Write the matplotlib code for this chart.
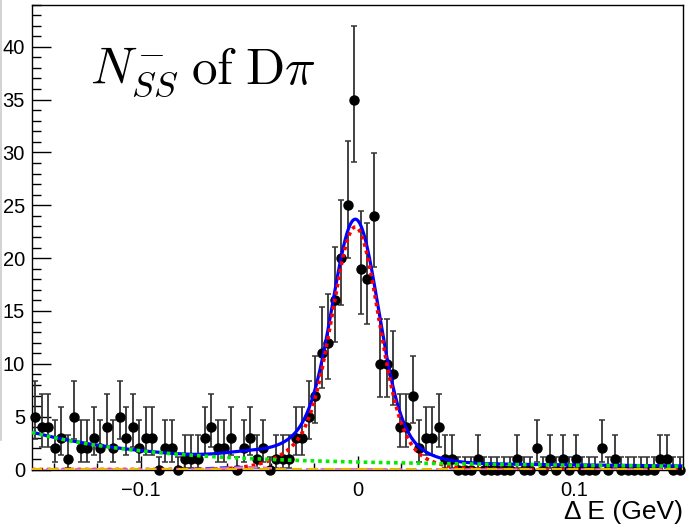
import math
import numpy as np
import matplotlib
matplotlib.use("Agg")
import matplotlib.pyplot as plt
from matplotlib.ticker import MultipleLocator
from matplotlib.lines import Line2D

# Delta E histogram: 100 bins from -0.15 to 0.15 GeV
x_lo, x_hi, n_bins = -0.15, 0.15, 100
counts = [
    5, 4, 4, 2, 3, 1, 5, 2, 2, 3,
    2, 4, 2, 5, 3, 4, 2, 3, 3, 0,
    2, 2, 0, 1, 1, 1, 3, 4, 2, 2,
    3, 0, 2, 3, 1, 2, 0, 1, 1, 1,
    3, 3, 5, 7, 11, 12, 16, 20, 25, 35,
    19, 18, 24, 10, 10, 9, 4, 4, 7, 2,
    3, 3, 4, 1, 1, 0, 0, 0, 1, 0,
    0, 0, 0, 0, 1, 0, 0, 2, 0, 1,
    0, 1, 0, 1, 0, 0, 0, 2, 0, 1,
    0, 0, 0, 0, 0, 0, 1, 1, 0, 0,
]

# Fit model parameters (events per bin)
sig_core = dict(amp=18.5, mean=-0.0008, sigma=0.0102)
sig_tail = dict(amp=4.5, mean=-0.004, sigma=0.020)
comb_const, comb_slope = 0.55, -1.7
comb_exp_amp, comb_exp_slope = 2.7, 19.0
peak_bkg_a = dict(amp=0.25, mean=-0.055, sigma=0.012)
peak_bkg_b = dict(amp=0.20, mean=-0.050, sigma=0.010)
flat_bkg = 0.03


def gauss(x, amp, mean, sigma):
    return amp * np.exp(-0.5 * ((x - mean) / sigma) ** 2)


def poisson_cdf(k, mu):
    term = math.exp(-mu)
    total = term
    for i in range(1, k + 1):
        term *= mu / i
        total += term
    return total


def solve_mu(k, target):
    # poisson_cdf(k, mu) decreases with mu
    lo, hi = 0.0, 200.0
    for _ in range(80):
        mid = 0.5 * (lo + hi)
        if poisson_cdf(k, mid) > target:
            lo = mid
        else:
            hi = mid
    return 0.5 * (lo + hi)


def poisson_interval(n, cl=0.6827):
    if n == 0:
        return 0.0, -math.log(1.0 - cl)
    alpha = 0.5 * (1.0 - cl)
    return solve_mu(n - 1, 1.0 - alpha), solve_mu(n, alpha)


counts = np.array(counts, dtype=float)
width = (x_hi - x_lo) / n_bins
centers = x_lo + width * (np.arange(n_bins) + 0.5)
intervals = np.array([poisson_interval(int(n)) for n in counts])
err_lo = counts - intervals[:, 0]
err_hi = intervals[:, 1] - counts

xf = np.linspace(x_lo, x_hi, 1500)
signal = gauss(xf, **sig_core) + gauss(xf, **sig_tail)
comb = comb_const + comb_slope * xf + comb_exp_amp * np.exp(-comb_exp_slope * (xf - x_lo))
bkg_a = gauss(xf, **peak_bkg_a)
bkg_b = gauss(xf, **peak_bkg_b)
flat = np.full_like(xf, flat_bkg)
total = signal + comb + bkg_a + bkg_b + flat

plt.rcParams["font.family"] = ["Liberation Sans", "DejaVu Sans"]
plt.rcParams["mathtext.fontset"] = "cm"

W, H = 692, 528
fig = plt.figure(figsize=(W / 100, H / 100), dpi=100)
ax_l, ax_r, ax_t, ax_b = 32, 683, 4.5, 469.5
ax = fig.add_axes([ax_l / W, 1 - ax_b / H, (ax_r - ax_l) / W, (ax_b - ax_t) / H])

eb = ax.errorbar(centers, counts, yerr=[err_lo, err_hi], fmt="o", color="black",
                 ecolor="#333333", elinewidth=1.3, capsize=2.0, capthick=1.1,
                 markersize=6.5, zorder=2)
eb[0].set_clip_on(False)

ax.plot(xf, total, color="#0000ff", lw=2.3, zorder=3)
ax.plot(xf, signal, color="#ff0000", lw=2.6, ls=(0, (1, 1.1)), zorder=4)
ax.plot(xf, comb, color="#00ee00", lw=2.6, ls=(0, (1, 1.1)), zorder=4)
ax.plot(xf, bkg_a, color="#3344ff", lw=1.6, ls=(0, (4, 2.5)), zorder=4)
ax.plot(xf, bkg_b, color="#ff7799", lw=1.6, ls=(0, (4, 2.5)), zorder=4)
ax.plot(xf, flat, color="#e8b800", lw=1.8, ls=(0, (4, 2.5)), zorder=5)

ax.set_xlim(x_lo, x_hi)
ax.set_ylim(0, 44)
ax.xaxis.set_major_locator(MultipleLocator(0.1))
ax.xaxis.set_minor_locator(MultipleLocator(0.02))
ax.yaxis.set_major_locator(MultipleLocator(5))
ax.yaxis.set_minor_locator(MultipleLocator(1))
ax.set_xticks([-0.1, 0.0, 0.1])
ax.set_xticklabels(["\u22120.1", "0", "0.1"])
ax.tick_params(axis="both", which="both", direction="in", top=False, right=False,
               labelsize=14.5, color="black")
ax.tick_params(axis="y", which="major", length=13.7, width=1.0, pad=5)
ax.tick_params(axis="y", which="minor", length=6.8, width=1.0)
ax.tick_params(axis="x", which="major", length=10, width=1.0, pad=8)
ax.tick_params(axis="x", which="minor", length=5, width=1.0)
for sp in ax.spines.values():
    sp.set_linewidth(1.0)

fig.text(90 / W, 1 - 83 / H, r"$N_{SS}^{-}\;\mathrm{of}\;\mathrm{D}\pi$",
         fontsize=37, ha="left", va="baseline")
fig.text(683 / W, 1 - 512 / H, "\u0394 E (GeV)", fontsize=19,
         ha="right", va="center")

fig.add_artist(Line2D([1.5 / W, 1.5 / W], [1, 1 - 440 / H], color="#cccccc", lw=1.2))

fig.savefig("out.png", dpi=100)
